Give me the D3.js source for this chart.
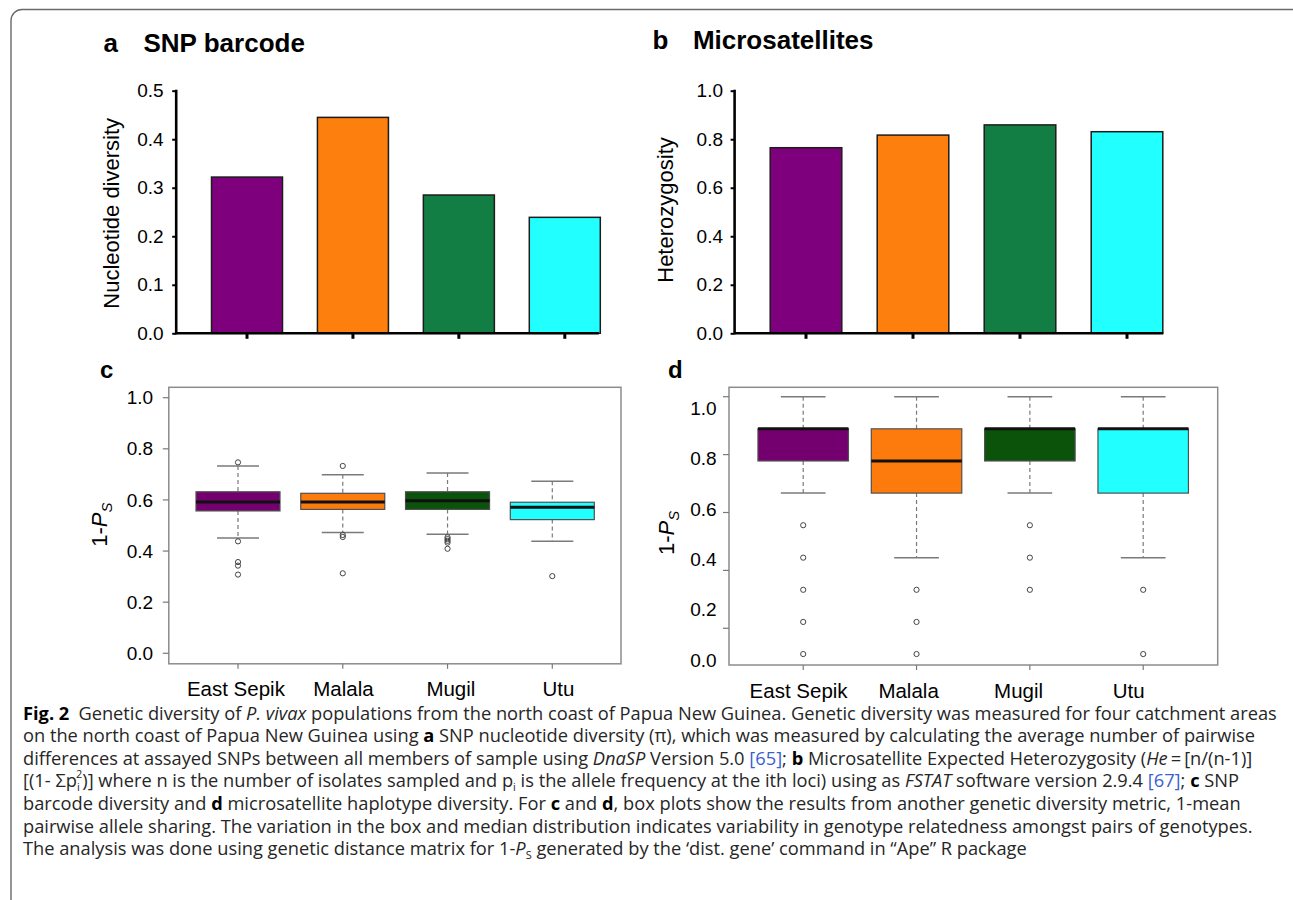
<!DOCTYPE html>
<html>
<head>
<meta charset="utf-8">
<style>
body { margin: 0; background: #fff; }
svg text { font-family: "Liberation Sans", Arial, sans-serif; }
</style>
<title>genetic diversity</title>
<script src="https://cdn.jsdelivr.net/npm/d3@7"></script>
</head>
<body>
<svg width="1293" height="900"></svg>
<script>

var regions = ["East Sepik", "Malala", "Mugil", "Utu"];
var barColors = ["#7e007c", "#fd7f0d", "#137e43", "#22ffff"];
var boxColors = ["#74006f", "#fd7b0c", "#0b520b", "#22ffff"];

// a  SNP nucleotide diversity
var snpPi = [0.322, 0.445, 0.285, 0.239];
var snpPiTicks = [0, 0.1, 0.2, 0.3, 0.4, 0.5];

// b  microsatellite heterozygosity
var msHe = [0.765, 0.817, 0.859, 0.831];
var msHeTicks = [0, 0.2, 0.4, 0.6, 0.8, 1.0];

// c  SNP barcode 1-Ps
var snpLow  = [0.451, 0.473, 0.466, 0.438];
var snpQ1   = [0.557, 0.563, 0.563, 0.523];
var snpMed  = [0.592, 0.592, 0.597, 0.571];
var snpQ3   = [0.632, 0.626, 0.632, 0.591];
var snpHigh = [0.733, 0.699, 0.705, 0.673];
var snpOut  = [[0.747, 0.438, 0.357, 0.343, 0.308],
               [0.733, 0.463, 0.455, 0.313],
               [0.454, 0.447, 0.440, 0.433, 0.409],
               [0.302]];

// d  microsatellite haplotype 1-Ps
var msLow  = [0.667, 0.444, 0.667, 0.444];
var msQ1   = [0.778, 0.667, 0.778, 0.667];
var msMed  = [0.889, 0.778, 0.889, 0.889];
var msQ3   = [0.889, 0.889, 0.889, 0.889];
var msHigh = [1.0, 1.0, 1.0, 1.0];
var msOut  = [[0.556, 0.444, 0.333, 0.222, 0.111],
              [0.333, 0.222, 0.111],
              [0.556, 0.444, 0.333],
              [0.333, 0.111]];

var psTicks = [0, 0.2, 0.4, 0.6, 0.8, 1.0];

var svg = d3.select("svg");
var fmt = d3.format(".1f");

// frame round the figure
svg.append("rect")
    .attr("x", 11).attr("y", 9.5)
    .attr("width", 1292).attr("height", 1000)
    .attr("rx", 11)
    .attr("fill", "none")
    .attr("stroke", "#6a6a6a")
    .attr("stroke-width", 1.4);

function title(x, y, letter, gap, text, size) {
  svg.append("text").attr("x", x).attr("y", y)
      .attr("font-size", size).attr("font-weight", "bold").text(letter);
  if (text) {
    svg.append("text").attr("x", x + gap).attr("y", y)
        .attr("font-size", size).attr("font-weight", "bold").text(text);
  }
}

function barPanel(vals, ticks, o) {
  var x = d3.scalePoint().domain(regions).range(o.xr);
  var y = d3.scaleLinear().domain([0, o.max]).range(o.yr);
  var g = svg.append("g");

  g.selectAll("rect")
    .data(vals)
    .enter().append("rect")
      .attr("x", function(d, i) { return x(regions[i]) - o.barW / 2; })
      .attr("y", function(d) { return y(d); })
      .attr("width", o.barW)
      .attr("height", function(d) { return y(0) - y(d); })
      .attr("fill", function(d, i) { return barColors[i]; })
      .attr("stroke", "#1c1c1c")
      .attr("stroke-width", 1.5);

  var ya = g.append("g")
      .attr("transform", "translate(" + o.axisX + ",0)")
      .call(d3.axisLeft(y).tickValues(ticks).tickFormat(fmt).tickSize(4).tickPadding(o.pad));
  ya.select(".domain").remove();
  ya.attr("font-family", null).attr("font-size", 19);
  ya.selectAll("line").attr("stroke-width", 2);
  ya.selectAll("text").attr("fill", "#000");

  g.append("line")
      .attr("x1", o.axisX).attr("x2", o.axisX)
      .attr("y1", y(0) + 1).attr("y2", y(o.max) - 1)
      .attr("stroke", "#000").attr("stroke-width", 2.6);
  g.append("line")
      .attr("x1", o.axisX).attr("x2", o.axisEnd)
      .attr("y1", y(0)).attr("y2", y(0))
      .attr("stroke", "#000").attr("stroke-width", 2.6);

  g.selectAll(".xt")
    .data(regions)
    .enter().append("line")
      .attr("class", "xt")
      .attr("x1", function(d) { return x(d); })
      .attr("x2", function(d) { return x(d); })
      .attr("y1", y(0))
      .attr("y2", y(0) + 5.5)
      .attr("stroke", "#000")
      .attr("stroke-width", 3);

  g.append("text")
      .attr("transform", "translate(" + o.labX + "," + o.labY + ") rotate(-90)")
      .attr("text-anchor", "middle")
      .attr("font-size", 22)
      .text(o.label);
}

function boxPanel(s, outs, o) {
  var x = d3.scalePoint().domain(regions).range(o.xr);
  var xl = d3.scalePoint().domain(regions).range(o.labelXr);
  var y = d3.scaleLinear().domain([0, 1]).range(o.yr);
  var yl = d3.scaleLinear().domain([0, 1]).range(o.labelYr);
  var f = o.frame;
  var g = svg.append("g");
  var grey = "#7a7a7a";

  g.append("rect")
      .attr("x", f[0]).attr("y", f[1])
      .attr("width", f[2] - f[0]).attr("height", f[3] - f[1])
      .attr("fill", "none").attr("stroke", "#8c8c8c").attr("stroke-width", 1.5);

  g.selectAll(".yt")
    .data(o.tickVals)
    .enter().append("line")
      .attr("x1", f[0] - 6).attr("x2", f[0])
      .attr("y1", function(d) { return y(d); })
      .attr("y2", function(d) { return y(d); })
      .attr("stroke", grey).attr("stroke-width", 1.2);

  g.selectAll(".yl")
    .data(psTicks)
    .enter().append("text")
      .attr("x", o.labelX)
      .attr("y", function(d) { return yl(d); })
      .attr("dy", "0.35em")
      .attr("text-anchor", "end")
      .attr("font-size", 19)
      .text(fmt);

  g.selectAll(".xt")
    .data(regions)
    .enter().append("line")
      .attr("x1", function(d) { return x(d); })
      .attr("x2", function(d) { return x(d); })
      .attr("y1", f[3]).attr("y2", f[3] + 5)
      .attr("stroke", grey).attr("stroke-width", 1.2);

  g.selectAll(".xl")
    .data(regions)
    .enter().append("text")
      .attr("x", function(d) { return xl(d); })
      .attr("y", o.catY)
      .attr("text-anchor", "middle")
      .attr("font-size", 20.5)
      .text(function(d) { return d; });

  regions.forEach(function(r, i) {
    var cx = x(r);
    // whiskers
    g.append("line")
        .attr("x1", cx).attr("x2", cx)
        .attr("y1", y(s.high[i])).attr("y2", y(s.q3[i]))
        .attr("stroke", grey).attr("stroke-width", 1.2).attr("stroke-dasharray", "4,3");
    g.append("line")
        .attr("x1", cx).attr("x2", cx)
        .attr("y1", y(s.q1[i])).attr("y2", y(s.low[i]))
        .attr("stroke", grey).attr("stroke-width", 1.2).attr("stroke-dasharray", "4,3");
    [s.high[i], s.low[i]].forEach(function(v) {
      g.append("line")
          .attr("x1", cx - o.capW / 2).attr("x2", cx + o.capW / 2)
          .attr("y1", y(v)).attr("y2", y(v))
          .attr("stroke", grey).attr("stroke-width", 1.5);
    });
    g.append("rect")
        .attr("x", cx - o.boxW / 2)
        .attr("y", y(s.q3[i]))
        .attr("width", o.boxW)
        .attr("height", y(s.q1[i]) - y(s.q3[i]))
        .attr("fill", boxColors[i])
        .attr("stroke", "#505050").attr("stroke-width", 1.2);
    g.append("line")
        .attr("x1", cx - o.boxW / 2).attr("x2", cx + o.boxW / 2)
        .attr("y1", y(s.med[i])).attr("y2", y(s.med[i]))
        .attr("stroke", "#111").attr("stroke-width", 3);
    g.selectAll(".o" + i)
      .data(outs[i])
      .enter().append("circle")
        .attr("cx", cx)
        .attr("cy", function(d) { return y(d); })
        .attr("r", 2.6)
        .attr("fill", "none")
        .attr("stroke", "#444").attr("stroke-width", 1);
  });

  var lab = g.append("text")
      .attr("transform", "translate(" + o.labX + "," + o.labY + ") rotate(-90)")
      .attr("font-size", 22);
  lab.append("tspan").text("1-");
  lab.append("tspan").attr("font-style", "italic").text("P");
  lab.append("tspan").attr("font-style", "italic").attr("font-size", 15).attr("dy", 5).text("S");
}

// a
title(103.5, 51.7, "a", 40, "SNP barcode", 26);
barPanel(snpPi, snpPiTicks, {
  xr: [247, 564.8], yr: [333.3, 90.7], max: 0.5, barW: 71,
  axisX: 176.2, axisEnd: 598.7, pad: 8.5,
  labX: 119.2, labY: 213.3, label: "Nucleotide diversity"
});

// b
title(652.5, 49.3, "b", 40.4, "Microsatellites", 26);
barPanel(msHe, msHeTicks, {
  xr: [806, 1127], yr: [333.3, 90.7], max: 1.0, barW: 71.6,
  axisX: 734.6, axisEnd: 1163.2, pad: 7.6,
  labX: 673, labY: 210, label: "Heterozygosity"
});

// c
title(100, 378.3, "c", 0, null, 24);
boxPanel({low: snpLow, q1: snpQ1, med: snpMed, q3: snpQ3, high: snpHigh}, snpOut, {
  frame: [168.8, 387.3, 621, 663.8],
  xr: [238, 552.3], labelXr: [235.9, 558.4],
  yr: [653.3, 397.7], labelYr: [653.3, 397.7], labelX: 153.2,
  tickVals: psTicks, boxW: 84, capW: 42, catY: 696,
  labX: 106.5, labY: 546.7
});

// d
title(668, 378, "d", 0, null, 24);
boxPanel({low: msLow, q1: msQ1, med: msMed, q3: msQ3, high: msHigh}, msOut, {
  frame: [729, 387.3, 1217.7, 665],
  xr: [803.2, 1143.2], labelXr: [798.6, 1128.6],
  yr: [686.2, 396.7], labelYr: [660, 408.5], labelX: 716.7,
  tickVals: [0.2, 0.4, 0.6, 0.8, 1.0], boxW: 90.5, capW: 44.7, catY: 698,
  labX: 674, labY: 555
});

// caption
var captionLines = [
  [["Fig. 2", "b"], ["\u2002Genetic diversity of ", ""], ["P. vivax", "i"], [" populations from the north coast of Papua New Guinea. Genetic diversity was measured for four catchment areas", ""]],
  [["on the north coast of Papua New Guinea using ", ""], ["a", "b"], [" SNP nucleotide diversity (\u03c0), which was measured by calculating the average number of pairwise", ""]],
  [["differences at assayed SNPs between all members of sample using ", ""], ["DnaSP", "i"], [" Version 5.0 ", ""], ["[65]", "l"], ["; ", ""], ["b", "b"], [" Microsatellite Expected Heterozygosity (", ""], ["He", "i"], ["\u2009=\u2009[n/(n-1)]", ""]],
  [["[(1- \u03a3p", ""], ["i", "sub"], ["2", "sup"], [")] where n is the number of isolates sampled and p", ""], ["i", "sub"], [" is the allele frequency at the ith loci) using as ", ""], ["FSTAT", "i"], [" software version 2.9.4 ", ""], ["[67]", "l"], ["; ", ""], ["c", "b"], [" SNP", ""]],
  [["barcode diversity and ", ""], ["d", "b"], [" microsatellite haplotype diversity. For ", ""], ["c", "b"], [" and ", ""], ["d", "b"], [", box plots show the results from another genetic diversity metric, 1-mean", ""]],
  [["pairwise allele sharing. The variation in the box and median distribution indicates variability in genotype relatedness amongst pairs of genotypes.", ""]],
  [["The analysis was done using genetic distance matrix for 1-", ""], ["P", "i"], ["S", "sub"], [" generated by the \u2018dist. gene\u2019 command in \u201cApe\u201d R package", ""]]
];

var cap = svg.append("g")
    .attr("font-size", 15)
    .attr("fill", "#262626");

var fs = 15;

function captionLine(line, k) {
  var t = cap.append("text")
      .attr("x", 23)
      .attr("y", 719.5 + k * 22.6)
      .style("font-family", "'Open Sans', sans-serif");
  var shift = 0;
  line.forEach(function(seg) {
    var st = seg[1];
    var target = st === "sub" ? 0.22 * fs : (st === "sup" ? -0.5 * fs : 0);
    var ts = t.append("tspan").text(seg[0]);
    if (target !== shift) ts.attr("dy", target - shift);
    shift = target;
    if (st === "b") ts.attr("font-weight", "bold").attr("fill", "#000");
    if (st === "i") ts.attr("font-style", "italic");
    if (st === "l") ts.attr("fill", "#3b5fd0");
    if (st === "sub" || st === "sup") ts.attr("font-size", 0.6 * fs);
    if (st === "sup") ts.attr("dx", -0.2 * fs);
  });
  return t;
}

// first line sets the size so its length matches the printed one
var first = captionLine(captionLines[0], 0);
fs = 15 * 1254 / first.node().getComputedTextLength();
cap.attr("font-size", fs);
captionLines.slice(1).forEach(function(line, k) { captionLine(line, k + 1); });

</script>
</body>
</html>
